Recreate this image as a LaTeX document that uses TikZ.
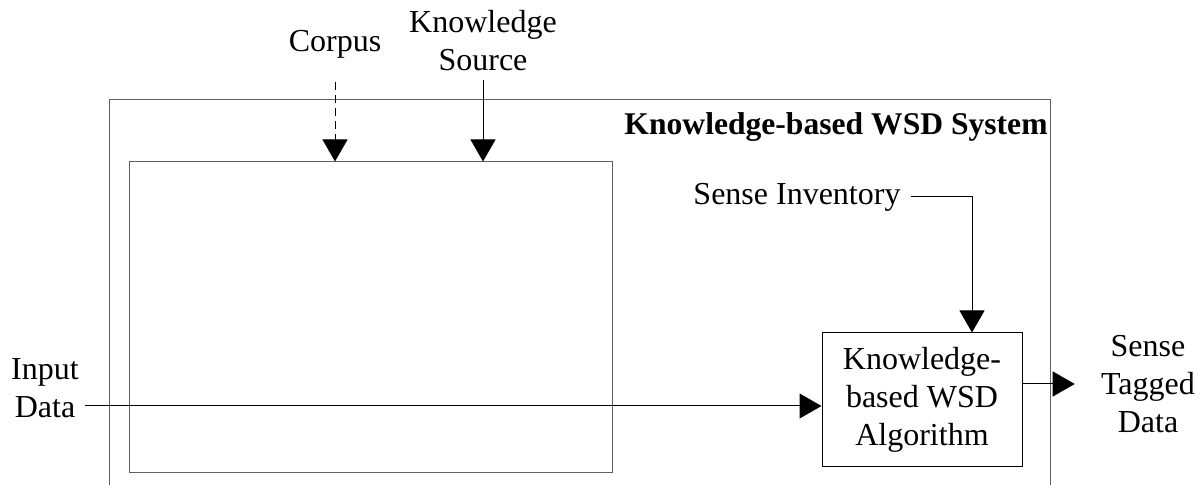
\documentclass[tikz,border=0pt]{standalone}
\usepackage{fontspec}
\setmainfont{Liberation Serif}
\usetikzlibrary{arrows.meta}
\definecolor{frame-grey}{HTML}{606060}

\begin{document}
\begin{tikzpicture}[x=0.5pt, y=-0.5pt,
          every node/.style={font=\fontsize{16}{19}\selectfont, align=center,
                             inner sep=0pt},
          box/.style={draw=frame-grey, line width=0.5pt},
          feed/.style={draw, line width=0.5pt,
                       -{Triangle[width=12.5pt,length=11pt]}}]
        % Diagram: the knowledge-based WSD system, an open frame with an empty
        % resource box on the left and the algorithm box on the right.
        % Coordinates: (x, y) in pixels of the 1201x485 page, y down.
        \useasboundingbox (0,0) rectangle (1201,485);
        \draw[frame-grey, line width=0.5pt] (109,485) |- (1050,100) -- (1050,485);
        \node[font=\fontsize{15.8}{19}\selectfont\bfseries, anchor=east] (system)
          at (1048,127) {Knowledge-based WSD System};
        \node[box, minimum width=241.5pt, minimum height=155.5pt] (resource)
          at (370.5,317.5) {};
        \node[box, draw=black, minimum width=100pt, minimum height=67pt] (algo)
          at (922,400) {Knowledge-\\based WSD\\Algorithm};
        % outside inputs and outputs
        \node (corpus) at (335,44) {Corpus};
        \node (ksource) at (483,41) {Knowledge\\Source};
        \node (inventory) at (797,197) {Sense Inventory};
        \node (indata) at (45,388) {Input\\Data};
        \node (tagged) at (1148,384) {Sense\\Tagged\\Data};
        \draw[feed, dash pattern=on 4pt off 2.5pt, shorten <=12pt]
          (corpus.south) -- (corpus.south |- resource.north);
        \draw[feed, shorten <=4pt] (ksource.south) -- (ksource.south |- resource.north);
        \draw[feed, shorten <=5pt] (inventory.east) -| ([xshift=25pt]algo.north);
        \draw[feed, shorten <=3pt] ([yshift=-9pt]indata.east)
          -- ([yshift=-9pt]indata.east -| algo.west);
        \draw[feed, shorten >=13pt] (algo.east |- tagged.west) -- (tagged.west);
      \end{tikzpicture}
\end{document}
